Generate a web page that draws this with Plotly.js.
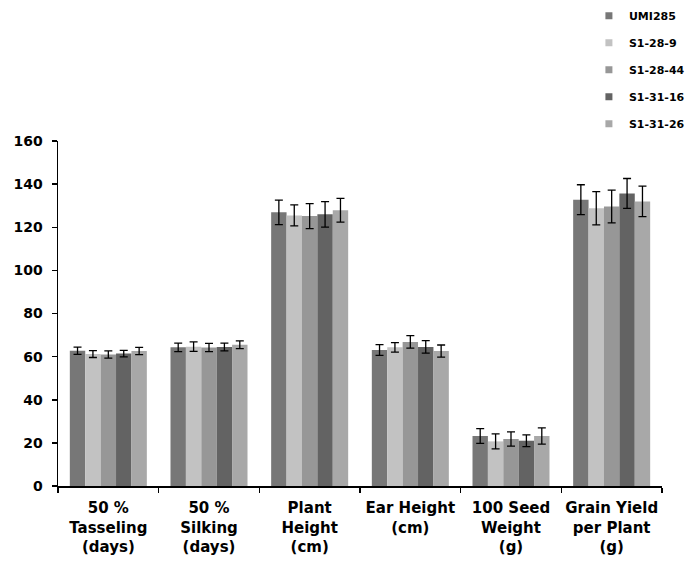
<!DOCTYPE html>
<html>
<head>
<meta charset="utf-8">
<script src="https://cdn.plot.ly/plotly-3.0.1.min.js"></script>
<style>html,body{margin:0;padding:0;background:#fff;}#chart{width:686px;height:566px;}</style>
</head>
<body>
<div id="chart"></div>
<script>
const categories = ["50 % Tasseling (days)", "50 % Silking (days)", "Plant Height (cm)", "Ear Height (cm)", "100 Seed Weight (g)", "Grain Yield per Plant (g)"];
const categoryLabels = ["50 %<br>Tasseling<br>(days)", "50 %<br>Silking<br>(days)", "Plant<br>Height<br>(cm)", "Ear Height<br>(cm)", "100 Seed<br>Weight<br>(g)", "Grain Yield<br>per Plant<br>(g)"];
const yTicks = [0, 20, 40, 60, 80, 100, 120, 140, 160];
const seriesNames = ["UMI285", "S1-28-9", "S1-28-44", "S1-31-16", "S1-31-26"];
const UMI285 = [62.7, 64.3, 126.9, 63.1, 23.2, 132.8];
const S1_28_9 = [61.2, 64.6, 125.5, 64.3, 20.7, 128.8];
const S1_28_44 = [61.0, 64.2, 125.2, 66.8, 21.8, 129.6];
const S1_31_16 = [61.4, 64.5, 126.0, 64.5, 21.0, 135.7];
const S1_31_26 = [62.6, 65.5, 127.9, 62.6, 23.2, 132.0];
const errUMI285 = [1.7, 2.0, 5.7, 2.5, 3.4, 6.9];
const errS1_28_9 = [1.6, 2.2, 4.9, 2.2, 3.5, 7.7];
const errS1_28_44 = [1.7, 1.9, 5.8, 2.9, 3.3, 7.6];
const errS1_31_16 = [1.5, 1.8, 5.9, 2.9, 2.7, 6.9];
const errS1_31_26 = [1.7, 1.8, 5.5, 2.8, 3.8, 7.1];
const seriesValues = [UMI285, S1_28_9, S1_28_44, S1_31_16, S1_31_26];
const seriesErrors = [errUMI285, errS1_28_9, errS1_28_44, errS1_31_16, errS1_31_26];
const colors = ["#777777", "#c2c2c2", "#979797", "#636363", "#a8a8a8"];

const FONT = "DejaVu Sans";
const traces = [];
seriesNames.forEach((name, i) => {
  traces.push({
    type: "bar",
    name: name,
    x: categories,
    y: seriesValues[i],
    marker: {color: colors[i], line: {width: 0}},
    error_y: {type: "data", array: seriesErrors[i], visible: true, color: "#000", thickness: 1.3, width: 4},
    showlegend: false
  });
});
seriesNames.forEach((name, i) => {
  traces.push({
    type: "scatter",
    mode: "markers",
    name: "<b>" + name + "</b>",
    x: [null],
    y: [null],
    marker: {symbol: "square", size: 7, color: colors[i]},
    legendgroup: "g" + i,
    showlegend: true,
    hoverinfo: "skip"
  });
});

const layout = {
  width: 686,
  height: 566,
  margin: {l: 58, r: 24, t: 141, b: 80, autoexpand: false},
  paper_bgcolor: "#fff",
  plot_bgcolor: "#fff",
  barmode: "group",
  bargap: 0.235,
  bargroupgap: 0,
  font: {family: FONT, color: "#000"},
  xaxis: {
    type: "category",
    categoryarray: categories,
    tickmode: "array",
    tickvals: categories,
    ticktext: categoryLabels.map(t => "<b>" + t.split("<br>").join("</b><br><b>") + "</b>"),
    tickangle: 0,
    tickson: "boundaries",
    ticks: "outside",
    ticklen: 5,
    tickwidth: 1.5,
    tickcolor: "#000",
    showline: true,
    linecolor: "#000",
    linewidth: 2,
    showgrid: false,
    zeroline: false,
    ticklabelstandoff: 7,
    tickfont: {family: FONT, size: 15, color: "#000"},
    fixedrange: true
  },
  yaxis: {
    range: [0, 160],
    tickmode: "array",
    tickvals: yTicks,
    ticktext: yTicks.map(v => "<b>" + v + "</b>"),
    ticks: "outside",
    ticklen: 5,
    tickwidth: 1.5,
    tickcolor: "#000",
    showline: true,
    linecolor: "#000",
    linewidth: 1.5,
    showgrid: false,
    zeroline: false,
    ticklabelstandoff: 6,
    tickfont: {family: FONT, size: 14, color: "#000"},
    fixedrange: true
  },
  legend: {
    x: 0.879,
    xanchor: "left",
    y: 1.405,
    yanchor: "top",
    font: {family: FONT, size: 11, color: "#000"},
    tracegroupgap: 8,
    bgcolor: "rgba(0,0,0,0)"
  },
  showlegend: true
};

Plotly.newPlot("chart", traces, layout, {displayModeBar: false, staticPlot: true});
</script>
</body>
</html>
